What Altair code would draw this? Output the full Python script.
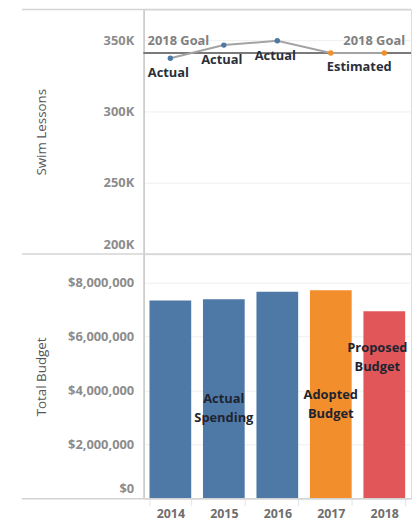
import altair as alt
import pandas as pd

# ---- data ----
years = ["2014", "2015", "2016", "2017", "2018"]
lessons = [337300, 346500, 349500, 341000, 341000]
lesson_status = ["Actual", "Actual", "Actual", "Estimated", "Estimated"]
point_labels = ["Actual", "Actual", "Actual", "Estimated", ""]
goal_value = 341000
goal_label = "2018 Goal"

budget = [7340000, 7390000, 7660000, 7720000, 6940000]
budget_type = ["Actual Spending", "Actual Spending", "Actual Spending",
               "Adopted Budget", "Proposed Budget"]
type_names = ["Actual Spending", "Adopted Budget", "Proposed Budget"]
type_colors = ["#4e79a7", "#f28e2b", "#e15759"]

ann_years = ["2015", "2017", "2018"]
ann_text = ["Actual\nSpending", "Adopted\nBudget", "Proposed\nBudget"]
ann_value = [3690000, 3850000, 5580000]

lesson_ticks = [200000, 250000, 300000, 350000]
budget_ticks = [0, 2000000, 4000000, 6000000, 8000000]

# ---- styling ----
W, H = 270, 247
FONT = "Open Sans"
BORDER = "#d4d4d4"

ldf = pd.DataFrame({"year": years, "lessons": lessons,
                    "status": lesson_status, "label": point_labels})
gdf = pd.DataFrame({"goal": [goal_value, goal_value],
                    "year": [years[0], years[-1]],
                    "label": [goal_label, goal_label]})
bdf = pd.DataFrame({"year": years, "budget": budget, "type": budget_type})
adf = pd.DataFrame({"year": ann_years, "text": ann_text, "pos": ann_value})
one = pd.DataFrame({"k": [0]})

status_color = alt.Color("status:N", legend=None,
                         scale=alt.Scale(domain=["Actual", "Estimated"],
                                         range=type_colors[:2]))

ly_scale = alt.Scale(domain=[200000, 371500], nice=False, zero=False)
xtop = alt.X("year:O", scale=alt.Scale(domain=years), axis=None)

def y_axis(title, **kw):
    return alt.Axis(title=title, ticks=False, labelPadding=10,
                    domainColor="#c8c8c8", domainWidth=1.5,
                    grid=True, gridColor="#efefef", gridWidth=1,
                    labelFlush=True, labelFlushOffset=-3,
                    labelFont=FONT, labelFontSize=13, labelFontWeight="bold",
                    labelColor="#8c8c8c",
                    titleFont=FONT, titleFontSize=13.5, titleFontWeight="normal",
                    titleColor="#555555", titleX=-103, titleY=H / 2,
                    titleAngle=270, titleAlign="center", titleBaseline="middle",
                    **kw)

base_top = alt.Chart(ldf)

top_line = base_top.mark_line(color="#a3a3a3", strokeWidth=2).encode(
    x=xtop,
    y=alt.Y("lessons:Q", scale=ly_scale,
            axis=y_axis("Swim Lessons", values=lesson_ticks,
                        labelExpr="datum.value / 1000 + 'K'")),
)
goal_rule = alt.Chart(gdf).mark_rule(color="#7a7a7a", strokeWidth=2).encode(
    y=alt.Y("goal:Q", scale=ly_scale)
)
top_points = base_top.mark_circle(size=30, opacity=1).encode(
    x=xtop, y=alt.Y("lessons:Q", scale=ly_scale), color=status_color
)
lbl_actual = base_top.transform_filter("datum.label == 'Actual'").mark_text(
    font=FONT, fontSize=13, fontWeight="bold", color="#2a2f3a",
    baseline="middle", align="center", dy=15, dx=-2
).encode(x=xtop, y=alt.Y("lessons:Q", scale=ly_scale), text="label:N")
lbl_est = base_top.transform_filter("datum.label == 'Estimated'").mark_text(
    font=FONT, fontSize=13, fontWeight="bold", color="#2a2f3a",
    baseline="middle", align="left", dy=14, dx=-4
).encode(x=xtop, y=alt.Y("lessons:Q", scale=ly_scale), text="label:N")
goal_lbl_left = alt.Chart(gdf).transform_filter(
    alt.datum.year == years[0]).mark_text(
    font=FONT, fontSize=13, fontWeight="bold", color="#808080",
    baseline="middle", align="left", dx=-23, dy=-12
).encode(x=xtop, y=alt.Y("goal:Q", scale=ly_scale), text="label:N")
goal_lbl_right = alt.Chart(gdf).transform_filter(
    alt.datum.year == years[-1]).mark_text(
    font=FONT, fontSize=13, fontWeight="bold", color="#808080",
    baseline="middle", align="right", dx=21, dy=-12
).encode(x=xtop, y=alt.Y("goal:Q", scale=ly_scale), text="label:N")

top_border = alt.Chart(one).mark_rule(color=BORDER, strokeWidth=1.5).encode(
    x=alt.value(-123), x2=alt.value(W), y=alt.value(0))

top = alt.layer(top_border, goal_rule, top_line, top_points, lbl_actual,
                lbl_est, goal_lbl_left, goal_lbl_right).properties(
    width=W, height=H)

# ---- bottom chart ----
xbot = alt.X("year:O", scale=alt.Scale(domain=years, paddingInner=0.22,
                                       paddingOuter=0.11),
             axis=alt.Axis(title=None, labelAngle=0, domain=False,
                           tickBand="extent", tickSize=7, tickColor="#e3e3e3",
                           tickWidth=1, labelPadding=2, labelFont=FONT,
                           labelFontSize=12.5, labelFontWeight="bold",
                           labelColor="#6e6e6e", grid=False))
by_scale = alt.Scale(domain=[0, 9060000], nice=False)

bars = alt.Chart(bdf).mark_bar().encode(
    x=xbot,
    y=alt.Y("budget:Q", scale=by_scale,
            axis=y_axis("Total Budget", values=budget_ticks, format="$,.0f")),
    color=alt.Color("type:N", legend=None,
                    scale=alt.Scale(domain=type_names, range=type_colors)),
)
ann_main = alt.Chart(adf).transform_filter(
    alt.datum.year != years[-1]).mark_text(
    font=FONT, fontSize=13, fontWeight="bold", color="#1e2430",
    lineBreak="\n", lineHeight=19, baseline="middle", align="center"
).encode(x=xbot, y=alt.Y("pos:Q", scale=by_scale), text="text:N")
ann_last = alt.Chart(adf).transform_filter(
    alt.datum.year == years[-1]).mark_text(
    font=FONT, fontSize=13, fontWeight="bold", color="#1e2430",
    lineBreak="\n", lineHeight=19, baseline="middle", align="center", dx=-7
).encode(x=xbot, y=alt.Y("pos:Q", scale=by_scale), text="text:N")

mid_border = alt.Chart(one).mark_rule(color=BORDER, strokeWidth=1.5).encode(
    x=alt.value(-123), x2=alt.value(W), y=alt.value(0))
bot_border = alt.Chart(one).mark_rule(color=BORDER, strokeWidth=1.5).encode(
    x=alt.value(-123), x2=alt.value(W), y=alt.value(H))

bottom = alt.layer(bars, ann_main, ann_last, mid_border, bot_border).properties(
    width=W, height=H)

chart = alt.vconcat(top, bottom, spacing=0, bounds="flush").resolve_scale(
    color="independent", x="independent", y="independent"
).properties(
    padding={"left": 20, "top": 5, "right": 0, "bottom": 0}
).configure_view(stroke=None).configure(background="white")

chart.save("out.html", embed_options={"renderer": "svg", "actions": False})
